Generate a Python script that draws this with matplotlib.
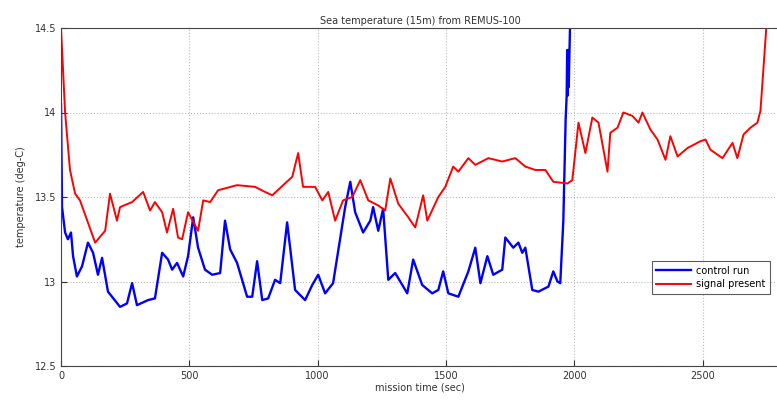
import matplotlib
matplotlib.use("Agg")
import matplotlib.pyplot as plt

# control run (blue)
t_control = [0, 4, 16, 27, 39, 47, 62, 82, 105, 125, 144, 160, 183, 230, 257, 277, 296,
             339, 366, 394, 417, 433, 452, 476, 495, 515, 534, 561, 589, 620, 639, 659,
             686, 725, 745, 764, 784, 807, 834, 854, 881, 912, 951, 979, 1002, 1029,
             1060, 1107, 1127, 1146, 1177, 1205, 1216, 1236, 1255, 1275, 1302, 1349,
             1372, 1407, 1446, 1470, 1489, 1509, 1548, 1587, 1614, 1634, 1661, 1684,
             1719, 1731, 1762, 1782, 1797, 1809, 1836, 1860, 1899, 1918, 1934, 1945,
             1957, 1966, 1970, 1972, 1974, 1976, 1978, 1980, 1986]
temp_control = [14.05, 13.44, 13.29, 13.25, 13.29, 13.15, 13.03, 13.09, 13.23, 13.17, 13.04,
                13.14, 12.94, 12.85, 12.87, 12.99, 12.86, 12.89, 12.90, 13.17, 13.13, 13.07,
                13.11, 13.03, 13.15, 13.38, 13.20, 13.07, 13.04, 13.05, 13.36, 13.19, 13.11,
                12.91, 12.91, 13.12, 12.89, 12.90, 13.01, 12.99, 13.35, 12.95, 12.89, 12.98,
                13.04, 12.93, 12.99, 13.44, 13.59, 13.41, 13.29, 13.36, 13.44, 13.30, 13.43,
                13.01, 13.05, 12.93, 13.13, 12.98, 12.93, 12.95, 13.06, 12.93, 12.91, 13.06,
                13.20, 12.99, 13.15, 13.04, 13.07, 13.26, 13.20, 13.23, 13.17, 13.20, 12.95,
                12.94, 12.97, 13.06, 13.00, 12.99, 13.36, 13.96, 14.10, 14.37, 14.10, 14.37,
                14.15, 14.30, 14.70]

# signal present (red)
t_signal = [0, 16, 35, 55, 74, 133, 172, 191, 218, 230, 277, 320, 347, 366, 394, 413, 437,
            456, 472, 495, 534, 554, 581, 612, 686, 756, 795, 823, 901, 924, 943, 990,
            1018, 1041, 1068, 1099, 1135, 1166, 1197, 1236, 1263, 1283, 1314, 1353, 1380,
            1411, 1427, 1470, 1497, 1528, 1548, 1587, 1614, 1665, 1719, 1770, 1809, 1848,
            1887, 1918, 1973, 1992, 2016, 2043, 2070, 2094, 2129, 2140, 2168, 2191, 2226,
            2250, 2265, 2296, 2324, 2355, 2374, 2402, 2441, 2491, 2511, 2530, 2577, 2616,
            2635, 2659, 2686, 2713, 2725, 2750]
temp_signal = [14.5, 14.0, 13.66, 13.52, 13.48, 13.23, 13.30, 13.52, 13.36, 13.44, 13.47,
               13.53, 13.42, 13.47, 13.41, 13.29, 13.43, 13.26, 13.25, 13.41, 13.30, 13.48,
               13.47, 13.54, 13.57, 13.56, 13.53, 13.51, 13.62, 13.76, 13.56, 13.56, 13.48,
               13.53, 13.36, 13.48, 13.50, 13.60, 13.48, 13.45, 13.42, 13.61, 13.46, 13.38,
               13.32, 13.51, 13.36, 13.50, 13.56, 13.68, 13.65, 13.73, 13.69, 13.73, 13.71,
               13.73, 13.68, 13.66, 13.66, 13.59, 13.58, 13.60, 13.94, 13.76, 13.97, 13.94,
               13.65, 13.88, 13.91, 14.00, 13.98, 13.94, 14.00, 13.90, 13.84, 13.72, 13.86,
               13.74, 13.79, 13.83, 13.84, 13.78, 13.73, 13.82, 13.73, 13.87, 13.91, 13.94,
               14.01, 14.55]

x_ticks = [0, 500, 1000, 1500, 2000, 2500]
y_ticks = [12.5, 13, 13.5, 14, 14.5]
y_ticklabels = ["12.5", "13", "13.5", "14", "14.5"]

fig = plt.figure(figsize=(7.77, 4.0), dpi=100)
ax = fig.add_axes([0.0785, 0.085, 0.925, 0.845])

ax.plot(t_control, temp_control, color="#0000ff", lw=1.7, label="control run")
ax.plot(t_signal, temp_signal, color="#ff0000", lw=1.4, label="signal present")

ax.set_xlim(0, 2800)
ax.set_ylim(12.5, 14.5)
ax.set_xticks(x_ticks)
ax.set_yticks(y_ticks)
ax.set_yticklabels(y_ticklabels)
ax.tick_params(direction="in", labelsize=7, length=4, colors="#333333")
ax.grid(True, linestyle=":", color="#bbbbbb", lw=0.8)
for s in ax.spines.values():
    s.set_color("#444444")
    s.set_linewidth(0.8)

ax.set_title("Sea temperature (15m) from REMUS-100", fontsize=7, color="#333333", pad=3)
ax.set_xlabel("mission time (sec)", fontsize=7, color="#333333", labelpad=1)
ax.set_ylabel("temperature (deg-C)", fontsize=7, color="#333333", labelpad=6)

leg = ax.legend(loc="lower right", bbox_to_anchor=(0.993, 0.2), fontsize=7,
                frameon=True, fancybox=False, edgecolor="#333333",
                borderpad=0.45, handlelength=3.6, labelspacing=0.35, handletextpad=0.5)
leg.get_frame().set_linewidth(0.8)

fig.savefig("out.png", dpi=100)
